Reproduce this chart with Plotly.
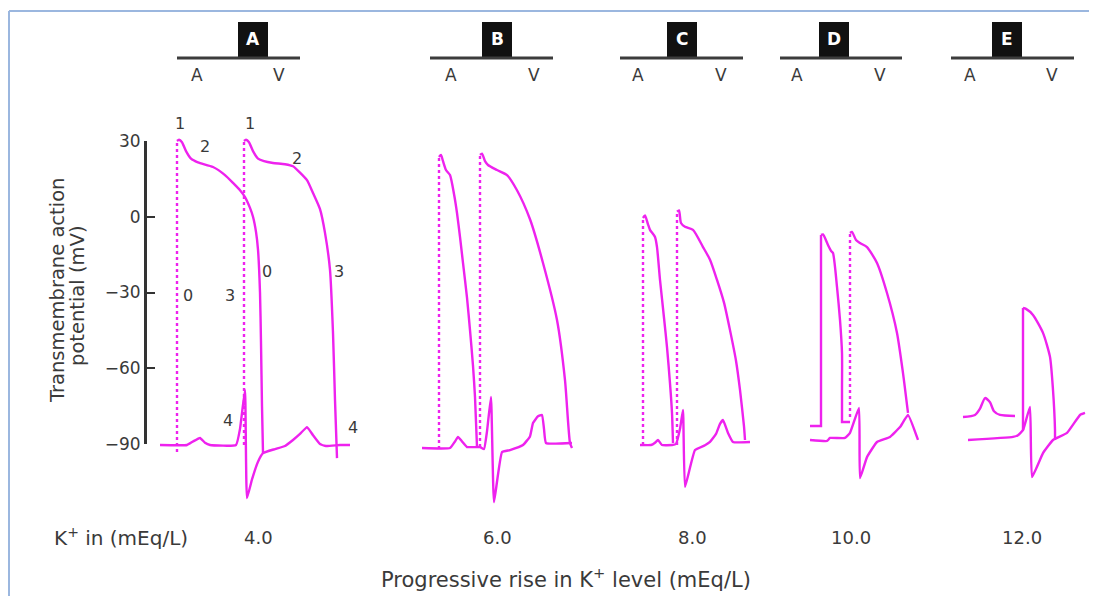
import plotly.graph_objects as go

# The page body adds an 8px margin; the figure is placed so that reference pixel (x, y)
# falls on page pixel (x, y).
OFF = 8
W, H = 1089, 588
MAG = "#EE22EE"
TXT = "#3a3a3a"
FONT = "DejaVu Sans, Verdana, sans-serif"

# ---------------- data (time in arbitrary units, potential in mV) ----------------
panel_letters = ["A", "B", "C", "D", "E"]
k_levels = ["4.0", "6.0", "8.0", "10.0", "12.0"]
y_ticks = [-90, -60, -30, 0, 30]

# Panel A (K+ 4.0)
A_atr_t = [177, 179, 182, 186, 191, 198, 213, 225, 233, 240, 245, 250, 253, 256, 258, 260, 261, 262, 263]
A_atr_mv = [30, 30.5, 29.5, 26, 23, 21.5, 19.7, 16.5, 13.4, 10.5, 7.8, 3.5, 0, -6, -13, -30, -50, -75, -93.6]
A_ven_t = [244, 246, 249, 253, 258, 264, 273, 285, 293, 300, 307, 313, 320, 325, 330, 333, 335, 337]
A_ven_mv = [30, 30.5, 29.5, 26, 23, 22, 21.3, 20.8, 20, 17.5, 14.5, 9.4, 3, -6.4, -21, -46, -72.6, -95.6]
A_ecg_t = [160, 187, 193, 200, 205, 210, 236, 240, 245, 247, 252, 258, 263, 275, 285, 293, 300, 307, 313, 320, 326, 340, 350]
A_ecg_mv = [-90.4, -90.4, -89, -87.6, -89.5, -90.4, -90.4, -84, -68.6, -111.4, -104, -97, -93.6, -92, -90.8, -88.4, -86, -83.3, -86.5, -90, -90.8, -90.4, -90.4]
A_dot_t = [177, 244]
A_dot_top = [30, 30]
A_dot_bot = [-93.2, -90.4]

# Panel B (K+ 6.0)
B_atr_t = [439, 441, 443, 446, 450, 454, 457, 460, 463, 467, 470, 473, 475, 477]
B_atr_mv = [23.7, 24.5, 22, 18.5, 16.5, 9, 1.5, -8, -18.3, -32, -44.9, -59, -71.4, -91.2]
B_ven_t = [480, 482, 485, 488, 497, 507, 517, 530, 543, 557, 565, 570, 572]
B_ven_mv = [24.5, 25, 22, 20.5, 18.5, 16.5, 10.5, -1, -18.3, -40.9, -64.7, -89.6, -91.6]
B_ecg_t = [422, 450, 455, 458, 462, 467, 480, 484, 487, 491, 494, 502, 510, 523, 530, 533, 538, 542, 544, 546, 572]
B_ecg_mv = [-91.6, -91.6, -89, -87.2, -89, -91.2, -91.2, -92, -85, -71.4, -113, -93.2, -92.4, -90.4, -87, -81.7, -79, -78.5, -84, -89.6, -89.6]
B_dot_t = [439, 480]
B_dot_top = [23.7, 24.5]
B_dot_bot = [-92, -91.2]

# Panel C (K+ 8.0)
C_atr_t = [643, 645, 648, 650, 655, 657, 660, 664, 667, 670, 672, 673]
C_atr_mv = [-0.5, 0.5, -3, -5.2, -8, -12, -25, -40, -51.6, -66, -77.7, -89.6]
C_ven_t = [677, 679, 681, 685, 693, 703, 710, 717, 724, 730, 736, 740, 744, 745]
C_ven_mv = [2, 2.5, -2.5, -4, -5.2, -12, -17, -25, -34, -44.9, -57, -68.6, -83, -88.4]
C_ecg_t = [640, 651, 655, 658, 662, 672, 676, 680, 683, 685, 695, 705, 710, 716, 720, 723, 728, 733, 750]
C_ecg_mv = [-90.4, -90.4, -89.5, -88.4, -90.4, -90.4, -90, -84, -76.5, -107, -92.4, -90.5, -89.2, -86, -82, -80.5, -85.6, -89.2, -89.2]
C_dot_t = [643, 677]
C_dot_top = [-0.5, 2]
C_dot_bot = [-90.4, -90.4]

# Panel D (K+ 10.0)
D_atr_t = [810, 821, 821, 823, 828, 831, 833, 837, 840, 842, 842, 842, 850]
D_atr_mv = [-82.9, -82.9, -7.2, -7, -11.2, -13.5, -14.4, -27.8, -40.9, -54, -67.4, -81.3, -81.3]
D_ven_t = [850, 852, 856, 860, 867, 877, 887, 897, 903, 908]
D_ven_mv = [-6.4, -6, -9.2, -10.4, -12, -18.3, -30.2, -46, -61.9, -77.7]
D_ecg_t = [810, 827, 830, 845, 850, 859, 860, 867, 877, 890, 900, 908, 918]
D_ecg_mv = [-88.4, -88.8, -87.6, -87.6, -85.6, -75.7, -103.5, -95.2, -89.2, -87.2, -83.3, -78.5, -88.4]
D_dot_t = [850]
D_dot_top = [-6.4]
D_dot_bot = [-79.3]

# Panel E (K+ 12.0)
E_atr_t = [963, 975, 980, 985, 990, 994, 1000, 1015]
E_atr_mv = [-79.3, -78.5, -76, -71.8, -73.5, -77, -78.5, -78.9]
E_ven_t = [1023, 1023, 1026, 1033, 1043, 1050, 1053, 1055, 1055]
E_ven_mv = [-84.5, -36.1, -36.5, -38.9, -46, -55.5, -68.6, -84.5, -87.6]
E_ecg_t = [968, 1013, 1018, 1023, 1030, 1032, 1043, 1053, 1067, 1080, 1085]
E_ecg_mv = [-88.4, -87.2, -86.5, -84.5, -75.3, -103.1, -93.6, -88.4, -85.6, -78.5, -77.7]

# Phase labels (panel A)
phase_text = ["1", "1", "2", "2", "0", "3", "0", "3", "4", "4"]
phase_t = [180, 250, 205, 297, 188, 230, 267, 339, 228, 353]
phase_mv = [36.8, 36.8, 28, 23, -31, -31, -21.5, -21.5, -80.5, -83.5]

# ---------------- figure ----------------
fig = go.Figure()

def line(t, mv, dash="solid", shape="spline", smooth=0.5):
    ln = dict(color=MAG, width=2.4, dash=dash, shape=shape)
    if shape == "spline":
        ln["smoothing"] = smooth
    fig.add_trace(go.Scatter(x=t, y=mv, mode="lines", line=ln,
                             hoverinfo="skip", showlegend=False))

for t, mv in [(A_atr_t, A_atr_mv), (A_ven_t, A_ven_mv),
              (B_atr_t, B_atr_mv), (B_ven_t, B_ven_mv),
              (C_atr_t, C_atr_mv), (C_ven_t, C_ven_mv),
              (D_ven_t, D_ven_mv), (E_atr_t, E_atr_mv)]:
    line(t, mv, smooth=0.6)

# traces with a sharp vertical upstroke: straight up-stroke, smooth repolarisation
line(D_atr_t[:3], D_atr_mv[:3], shape="linear")
line(D_atr_t[2:11], D_atr_mv[2:11], smooth=0.6)
line(D_atr_t[10:], D_atr_mv[10:], shape="linear")
line(E_ven_t[:2], E_ven_mv[:2], shape="linear")
line(E_ven_t[1:], E_ven_mv[1:], smooth=0.6)

for t, mv in [(A_ecg_t, A_ecg_mv), (B_ecg_t, B_ecg_mv), (C_ecg_t, C_ecg_mv),
              (D_ecg_t, D_ecg_mv), (E_ecg_t, E_ecg_mv)]:
    line(t, mv, smooth=0.35)

for ts, tops, bots in [(A_dot_t, A_dot_top, A_dot_bot), (B_dot_t, B_dot_top, B_dot_bot),
                       (C_dot_t, C_dot_top, C_dot_bot), (D_dot_t, D_dot_top, D_dot_bot)]:
    for t, top, bot in zip(ts, tops, bots):
        line([t, t], [bot, top], dash="dot", shape="linear")

# invisible trace to carry the visible mV axis
fig.add_trace(go.Scatter(x=[145, 145], y=[-90, 30], yaxis="y2", mode="lines",
                         line=dict(width=0, color="rgba(0,0,0,0)"),
                         hoverinfo="skip", showlegend=False))

for txt, t, mv in zip(phase_text, phase_t, phase_mv):
    fig.add_annotation(x=t, y=mv, text=txt, showarrow=False, xanchor="center", yanchor="middle",
                       font=dict(family=FONT, size=16, color=TXT))

def px(x):
    return (x - OFF) / W

def py(y):
    return 1 - (y - OFF) / H

def note(x, y, text, size, color=TXT, xanchor="center", angle=0):
    fig.add_annotation(xref="paper", yref="paper", x=px(x), y=py(y), text=text,
                       showarrow=False, xanchor=xanchor, yanchor="middle", textangle=angle,
                       font=dict(family=FONT, size=size, color=color))

# header bars
box_cx = [253, 497, 682, 834, 1007]
bar_x0 = [177, 430, 620, 780, 951]
bar_x1 = [300, 553, 743, 902, 1074]
subA_x = [197, 451, 638, 797, 970]
subV_x = [279, 534, 721, 880, 1052]
k_x = [258, 497, 692, 851, 1022]

shapes = []
for i, L in enumerate(panel_letters):
    shapes.append(dict(type="rect", xref="paper", yref="paper",
                       x0=px(box_cx[i] - 15), x1=px(box_cx[i] + 15), y0=py(57), y1=py(22),
                       fillcolor="#111111", line=dict(width=0)))
    shapes.append(dict(type="line", xref="paper", yref="paper",
                       x0=px(bar_x0[i]), x1=px(bar_x1[i]), y0=py(58), y1=py(58),
                       line=dict(color="#3c3c3c", width=3)))
    note(box_cx[i], 39, "<b>%s</b>" % L, 17, color="white")
    note(subA_x[i], 75, "A", 17)
    note(subV_x[i], 75, "V", 17)
    note(k_x[i], 537, k_levels[i], 18)

note(52, 537, "K<sup>+</sup> in (mEq/L)", 20, xanchor="left")
note(566, 578, "Progressive rise in K<sup>+</sup> level (mEq/L)", 21)
note(57, 291, "Transmembrane action", 19.5, angle=-90)
note(77, 296, "potential (mV)", 19.5, angle=-90)

# light blue frame
shapes.append(dict(type="line", xref="paper", yref="paper", x0=px(9), x1=1, y0=py(11), y1=py(11),
                   line=dict(color="#9BB7DF", width=2)))
shapes.append(dict(type="line", xref="paper", yref="paper", x0=px(9), x1=px(9), y0=0, y1=py(11),
                   line=dict(color="#9BB7DF", width=2)))

y_top_px, y_bot_px = 141, 444
scale = (y_bot_px - y_top_px) / 120.0

fig.update_layout(
    width=W, height=H,
    margin=dict(l=0, r=0, t=0, b=0),
    paper_bgcolor="white", plot_bgcolor="rgba(0,0,0,0)",
    shapes=shapes,
    xaxis=dict(range=[OFF, OFF + W], visible=False, fixedrange=True),
    yaxis=dict(range=[-90 - (OFF + H - y_bot_px) / scale, 30 + (y_top_px - OFF) / scale],
               visible=False, domain=[0, 1]),
    yaxis2=dict(range=[-90, 30], domain=[py(y_bot_px), py(y_top_px)],
                anchor="free", position=px(145), side="left",
                tickvals=y_ticks, ticks="inside", ticklen=8, tickwidth=2, tickcolor="#333",
                showline=True, linewidth=3, linecolor="#333", showgrid=False, zeroline=False,
                tickfont=dict(family=FONT, size=17, color=TXT),
                automargin=False),
)

fig.write_html("out.html")
